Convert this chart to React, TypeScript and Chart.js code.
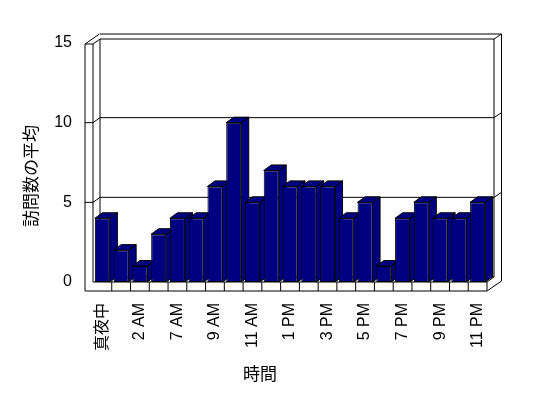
import { useEffect, useRef } from 'react';
import { Chart, registerables } from 'chart.js';

Chart.register(...registerables);

const categories = ['真夜中', '1 AM', '2 AM', '6 AM', '7 AM', '8 AM', '9 AM', '10 AM', '11 AM', '正午', '1 PM', '2 PM', '3 PM', '4 PM', '5 PM', '6 PM', '7 PM', '8 PM', '9 PM', '10 PM', '11 PM'];
const visits = [4, 2, 1, 3, 4, 4, 6, 10, 5, 7, 6, 6, 6, 4, 5, 1, 4, 5, 4, 4, 5];
const gridValues = [5, 10];
const yMax = 15;
const yStep = 5;
const xTitle = '時間';
const yTitle = '訪問数の平均';

const NAVY = '#000080';
const FONT = '"Liberation Sans", "Noto Sans CJK JP", sans-serif';
const CJK = '"Noto Sans CJK JP", "Liberation Sans", sans-serif';

// oblique depth offsets
const DX = 7, DY = -5;       // half depth (back wall face)
const FX = 14.5, FY = -10;   // full depth (back wall rear)
const BX = 7.5, BY = -5.5;   // bar depth
const WALL = 8;              // side wall thickness
const FLOOR = 9;             // floor slab thickness

const excel3d = {
  id: 'excel3d',
  beforeDatasetsDraw(chart: any) {
    const ctx = chart.ctx as CanvasRenderingContext2D;
    const xs = chart.scales.x;
    const ys = chart.scales.y;
    const L = chart.chartArea.left;
    const R = chart.chartArea.right;
    const T = ys.getPixelForValue(yMax) + 1;
    const B = ys.getPixelForValue(0);
    const SL = L - WALL;
    const Bf = B + FLOOR;

    const path = (pts: number[][], fill?: string, close = false) => {
      ctx.beginPath();
      pts.forEach((p, i) => (i ? ctx.lineTo(p[0], p[1]) : ctx.moveTo(p[0], p[1])));
      if (close) ctx.closePath();
      if (fill) { ctx.fillStyle = fill; ctx.fill(); }
      ctx.stroke();
    };

    ctx.save();
    ctx.strokeStyle = '#000';
    ctx.lineWidth = 1;

    // back wall face
    path([[L + DX, B + DY], [L + DX, T + DY], [R + DX, T + DY], [R + DX, B + DY], [L + DX, B + DY]], '#fff');
    // back wall rear edges
    path([[L + DX, T + FY], [R + FX, T + FY], [R + FX, Bf + FY]]);
    path([[R + DX, T + DY], [R + FX, T + FY]]);

    // gridlines
    gridValues.forEach((v) => {
      const y = ys.getPixelForValue(v);
      path([[SL, y], [L, y], [L + DX, y + DY], [R + DX, y + DY], [R + FX, y + FY]]);
    });

    // side wall + floor front (L shape)
    path([[SL, T], [SL, Bf], [R, Bf], [R, B]]);
    path([[L, T], [L, B], [R, B]]);
    path([[SL, T], [L, T]]);
    path([[SL, T], [SL + FX, T + FY]]);
    path([[L, T], [L + DX, T + DY]]);
    // floor right side
    path([[R, Bf], [R + FX, Bf + FY]]);
    path([[R, B], [R + DX, B + DY]]);
    // floor dividers
    for (let i = 1; i < categories.length; i++) {
      const x = (xs.getPixelForValue(i - 1) + xs.getPixelForValue(i)) / 2;
      path([[x, B], [x, Bf]]);
    }

    // bar side and top faces
    const meta = chart.getDatasetMeta(0);
    meta.data.forEach((el: any) => {
      const { x, y, base, width } = el.getProps(['x', 'y', 'base', 'width'], true);
      const l = x - width / 2;
      const r = x + width / 2;
      path([[r, y], [r + BX, y + BY], [r + BX, base + BY], [r, base]], NAVY, true);
      path([[l, y], [l + BX, y + BY], [r + BX, y + BY], [r, y]], NAVY, true);
    });
    ctx.restore();
  },
  afterDraw(chart: any) {
    const ctx = chart.ctx as CanvasRenderingContext2D;
    ctx.save();
    ctx.fillStyle = '#000';
    ctx.font = `17px ${CJK}`;
    ctx.textAlign = 'center';
    ctx.textBaseline = 'middle';
    ctx.fillText(xTitle, 260, 374);
    ctx.translate(31, 176);
    ctx.rotate(-Math.PI / 2);
    ctx.fillText(yTitle, 0, 0);
    ctx.restore();
  },
};

export default function App() {
  const ref = useRef<HTMLCanvasElement | null>(null);
  useEffect(() => {
    if (!ref.current) return;
    const chart = new Chart(ref.current, {
      type: 'bar',
      data: {
        labels: categories,
        datasets: [
          {
            data: visits,
            backgroundColor: NAVY,
            borderColor: '#000',
            borderWidth: 1,
            borderSkipped: false,
            barPercentage: 0.8,
            categoryPercentage: 1,
          },
        ],
      },
      options: {
        responsive: false,
        maintainAspectRatio: false,
        devicePixelRatio: 1,
        animation: false,
        events: [],
        layout: { padding: { top: 43, right: 61, left: 0, bottom: 0 } },
        plugins: { legend: { display: false }, tooltip: { enabled: false }, title: { display: false } },
        scales: {
          x: {
            grid: { display: false, drawTicks: false },
            border: { display: false },
            ticks: {
              autoSkip: false,
              minRotation: 90,
              maxRotation: 90,
              padding: 21,
              color: '#000',
              font: { family: FONT, size: 16 },
              callback: (_v: any, i: number) => (i % 2 === 0 ? categories[i] : ''),
            },
            afterFit: (s: any) => { s.height = 116; },
          },
          y: {
            min: 0,
            max: yMax,
            grid: { display: false, drawTicks: false },
            border: { display: false },
            ticks: { stepSize: yStep, padding: 21, color: '#000', font: { family: FONT, size: 16 } },
            afterFit: (s: any) => { s.width = 93; },
          },
        },
      },
      plugins: [excel3d],
    });
    return () => chart.destroy();
  }, []);
  return (
    <div style={{ position: 'fixed', left: 0, top: 0, width: 548, height: 398, background: '#fff' }}>
      <canvas ref={ref} width={548} height={398} style={{ display: 'block' }} />
    </div>
  );
}
